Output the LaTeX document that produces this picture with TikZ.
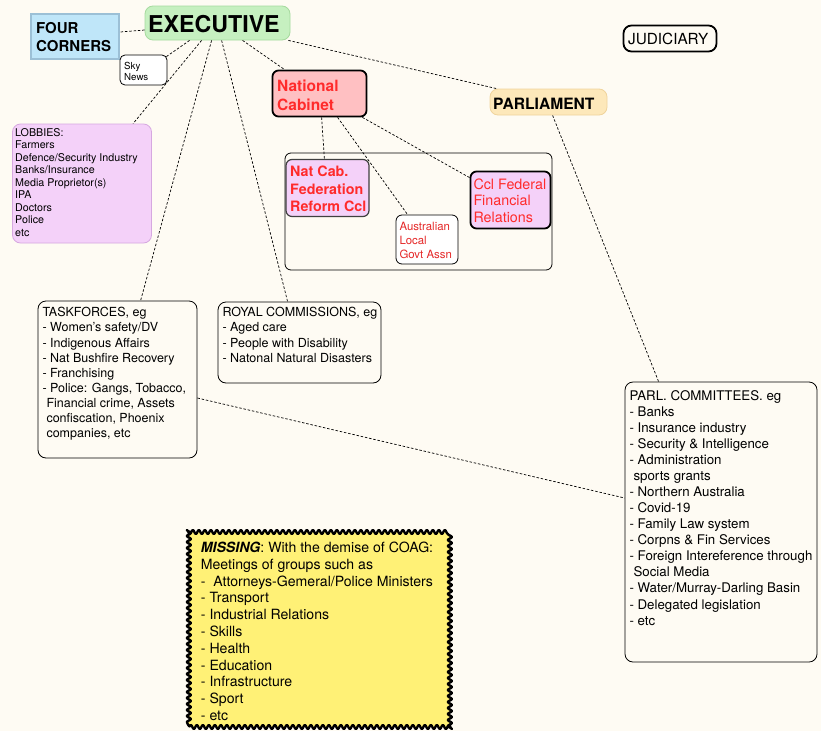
\documentclass[tikz,border=0pt]{standalone}
\usepackage{fontspec}
\setmainfont{TeX Gyre Heros}
\usetikzlibrary{decorations.pathmorphing}
\definecolor{bg}{HTML}{FEFBF3}
\definecolor{execf}{HTML}{C6F0C0}
\definecolor{execd}{HTML}{A6DA9E}
\definecolor{fcf}{HTML}{BFE6F9}
\definecolor{fcd}{HTML}{9CC0D6}
\definecolor{ncf}{HTML}{FFC0C2}
\definecolor{parf}{HTML}{FDE8BA}
\definecolor{pard}{HTML}{F0D49C}
\definecolor{purf}{HTML}{F4D1F9}
\definecolor{purd}{HTML}{D6A8E0}
\definecolor{txtred}{HTML}{FF2B2B}
\definecolor{yel}{HTML}{FFF176}
\newcommand\myfs[2]{\fontsize{#1}{#2}\selectfont}
\begin{document}
\begin{tikzpicture}[x=1pt,y=-1pt,
  box/.style={draw=black, line width=0.8pt, rounded corners=6pt, inner sep=0pt, fill=bg},
  txt/.style={anchor=north west, inner sep=0pt, align=left},
  conn/.style={draw=black, line width=0.7pt, dash pattern=on 2.5pt off 1.8pt}]
\useasboundingbox (0,0) rectangle (821,731);
\fill[bg] (0,0) rectangle (821,731);

% boxes
\node[box, fill=execf, draw=execd, rounded corners=8pt, minimum width=145pt, minimum height=34pt] (exec) at (217.5,23) {};
\node[txt, font=\myfs{23.2}{28}\bfseries] (exect) at (148,15.5) {EXECUTIVE};

\node[draw=fcd, fill=fcf, line width=2.5pt, inner sep=0pt, minimum width=88pt, minimum height=45pt] (fourc) at (75,36.5) {};
\node[txt, font=\myfs{15}{18}\bfseries] (fourct) at (36,22) {FOUR\\CORNERS};

\node[box, fill=white, rounded corners=5pt, minimum width=47pt, minimum height=30pt] (sky) at (143.5,70) {};
\node[txt, font=\myfs{9.7}{10.8}] (skyt) at (124,62) {Sky\\News};

\node[box, line width=1.8pt, rounded corners=8pt, minimum width=93pt, minimum height=26pt] (judi) at (670,38.5) {};
\node[txt, font=\myfs{15.3}{18}] (judit) at (628,33.3) {JUDICIARY};

\node[box, fill=ncf, line width=1.8pt, minimum width=94pt, minimum height=46pt] (natcab) at (319.5,93.5) {};
\node[txt, font=\myfs{15.5}{19}\bfseries, text=txtred] (natcabt) at (277,79.5) {National\\Cabinet};

\node[box, fill=parf, draw=pard, rounded corners=8pt, minimum width=117pt, minimum height=26pt] (parl) at (548.5,102) {};
\node[txt, font=\myfs{15.6}{18}\bfseries] (parlt) at (493,97.5) {PARLIAMENT};

\node[box, minimum width=267pt, minimum height=117pt] (cont) at (418.5,211.5) {};

\node[box, fill=purf, draw=black!75, line width=1.2pt, minimum width=83pt, minimum height=57pt] (nfrc) at (327.5,188) {};
\node[txt, font=\myfs{14.3}{17.5}\bfseries, text=txtred] (nfrct) at (290,166) {Nat Cab.\\Federation\\Reform Ccl};

\node[box, fill=white, minimum width=62pt, minimum height=49pt] (alga) at (427,239.5) {};
\node[txt, font=\myfs{11.4}{14.3}, text=txtred!90!black] (algat) at (399.3,221.7) {Australian\\Local\\Govt Assn};

\node[box, fill=purf, line width=1.8pt, minimum width=80pt, minimum height=57pt] (cffr) at (510.5,200) {};
\node[txt, font=\myfs{14.3}{16.7}, text=txtred] (cffrt) at (473.3,178.3) {Ccl Federal\\Financial\\Relations};

\node[box, fill=purf, draw=purd, rounded corners=8pt, minimum width=139pt, minimum height=119pt] (lob) at (82,183.5) {};
\node[txt, font=\myfs{10.7}{12.5}] (lobt) at (15,128.3) {LOBBIES:\\Farmers\\Defence/Security Industry\\Banks/Insurance\\Media Proprietor(s)\\IPA\\Doctors\\Police\\etc};

\node[box, rounded corners=8pt, minimum width=159pt, minimum height=157pt] (task) at (117.5,379.5) {};
\node[txt, font=\myfs{12.5}{15.1}] (taskt) at (42.3,307.3) {TASKFORCES, eg\\- Women’s safety/DV\\- Indigenous Affairs\\- Nat Bushfire Recovery\\- Franchising\\- Police: Gangs, Tobacco,\\\hspace*{4pt}Financial crime, Assets\\\hspace*{4pt}confiscation, Phoenix\\\hspace*{4pt}companies, etc};

\node[box, rounded corners=8pt, minimum width=163pt, minimum height=81pt] (royal) at (299.5,342.5) {};
\node[txt, font=\myfs{12.5}{15.1}] (royalt) at (222.3,307.3) {ROYAL COMMISSIONS, eg\\- Aged care\\- People with Disability\\- Natonal Natural Disasters};

\node[box, rounded corners=8pt, minimum width=192pt, minimum height=280pt] (parlc) at (721,522) {};
\node[txt, font=\myfs{13.3}{16.07}] (parlct) at (629.3,390) {PARL. COMMITTEES. eg\\- Banks\\- Insurance industry\\- Security \& Intelligence\\- Administration\\\hspace*{4pt}sports grants\\- Northern Australia\\- Covid-19\\- Family Law system\\- Corpns \& Fin Services\\- Foreign Intereference through\\\hspace*{4pt}Social Media\\- Water/Murray-Darling Basin\\- Delegated legislation\\- etc};

\node[draw=black, fill=yel, line width=2.4pt, line join=round, inner sep=0pt, minimum width=261pt, minimum height=196pt,
  decorate, decoration={snake, segment length=6pt, amplitude=2pt}] (miss) at (319.5,629) {};
\node[txt, font=\myfs{14.1}{16.8}] (misst) at (200.7,541.7) {\textbf{\textit{MISSING}}: With the demise of COAG:\\Meetings of groups such as\\-~ Attorneys-Gemeral/Police Ministers\\- Transport\\- Industrial Relations\\- Skills\\- Health\\- Education\\- Infrastructure\\- Sport\\- etc};

% connectors
\draw[conn] ([yshift=-7pt]exec.west) -- ([yshift=4.5pt]fourc.east);
\draw[conn] ([xshift=45pt]exec.south west) -- ([xshift=-1pt,yshift=-2pt]sky.north east);
\draw[conn] ([xshift=57pt]exec.south west) -- ([xshift=121pt]lob.north west);
\draw[conn] ([xshift=67pt]exec.south west) -- ([xshift=103pt]task.north west);
\draw[conn] ([xshift=77pt]exec.south west) -- ([xshift=70pt]royal.north west);
\draw[conn] ([xshift=98pt]exec.south west) -- ([xshift=13pt]natcab.north west);
\draw[conn] ([xshift=-2pt]exec.south east) -- ([xshift=7pt]parl.north west);
\draw[conn] ([xshift=50pt]natcab.south west) -- ([xshift=39pt]nfrc.north west);
\draw[conn] ([xshift=66pt]natcab.south west) -- ([xshift=12pt]alga.north west);
\draw[conn] ([xshift=-5pt]natcab.south east) -- ([yshift=-7pt]cffr.north west);
\draw[conn] ([xshift=63pt]parl.south west) -- ([xshift=34pt]parlc.north west);
\draw[conn] ([yshift=-18.5pt]task.east) -- ([yshift=24pt]parlc.west);
\end{tikzpicture}
\end{document}
